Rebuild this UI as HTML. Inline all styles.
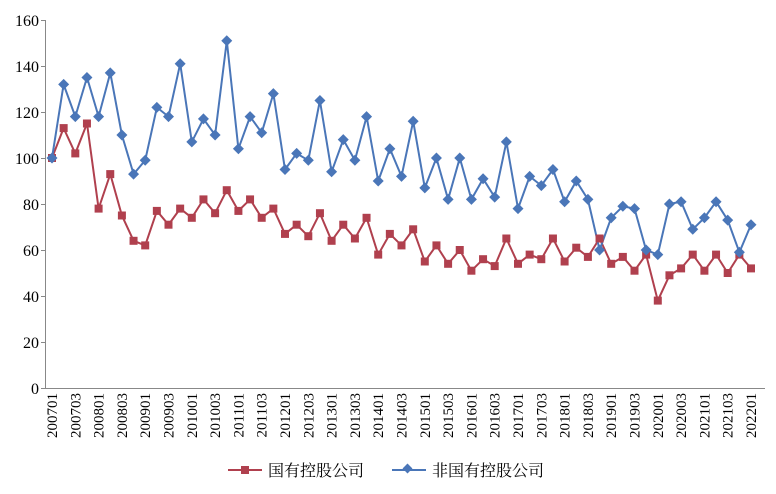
<!DOCTYPE html>
<html><head><meta charset="utf-8"><style>
body{margin:0;background:#fff}
svg text{font-family:"Liberation Serif","Noto Serif CJK SC",serif;fill:#000}
</style></head><body>
<svg id="s" width="776" height="489" xmlns="http://www.w3.org/2000/svg">
<line x1="45.5" y1="20" x2="45.5" y2="388" stroke="#888" stroke-width="1"/>
<line x1="45" y1="388.5" x2="765" y2="388.5" stroke="#888" stroke-width="1"/>
<g stroke="#888"><line x1="41" y1="20.5" x2="45" y2="20.5"/><line x1="41" y1="66.5" x2="45" y2="66.5"/><line x1="41" y1="112.5" x2="45" y2="112.5"/><line x1="41" y1="158.5" x2="45" y2="158.5"/><line x1="41" y1="204.5" x2="45" y2="204.5"/><line x1="41" y1="250.5" x2="45" y2="250.5"/><line x1="41" y1="296.5" x2="45" y2="296.5"/><line x1="41" y1="342.5" x2="45" y2="342.5"/><line x1="41" y1="388.5" x2="45" y2="388.5"/></g>
<g font-size="16" text-anchor="end">
<text x="39" y="394">0</text><text x="39" y="348">20</text><text x="39" y="302">40</text><text x="39" y="256">60</text><text x="39" y="210">80</text><text x="39" y="164">100</text><text x="39" y="118">120</text><text x="39" y="72">140</text><text x="39" y="26">160</text>
</g>
<g id="ser"></g>
<line x1="228" y1="470" x2="262" y2="470" stroke="#b0404e" stroke-width="2"/>
<rect x="241" y="466" width="8" height="8" fill="#b0404e"/>
<text x="268" y="476" font-size="16">国有控股公司</text>
<line x1="392" y1="470" x2="426" y2="470" stroke="#4a76b8" stroke-width="2"/>
<rect x="404" y="465" width="7" height="7" fill="#4a76b8" transform="rotate(45 407.5 468.5)"/>
<text x="432" y="476" font-size="16">非国有控股公司</text>
<g font-size="15" text-anchor="end">
<text transform="translate(57,393) rotate(-90)">200701</text>
<text transform="translate(80.3,393) rotate(-90)">200703</text>
<text transform="translate(103.6,393) rotate(-90)">200801</text>
<text transform="translate(126.9,393) rotate(-90)">200803</text>
<text transform="translate(150.2,393) rotate(-90)">200901</text>
<text transform="translate(173.5,393) rotate(-90)">200903</text>
<text transform="translate(196.8,393) rotate(-90)">201001</text>
<text transform="translate(220.1,393) rotate(-90)">201003</text>
<text transform="translate(243.4,393) rotate(-90)">201101</text>
<text transform="translate(266.7,393) rotate(-90)">201103</text>
<text transform="translate(290,393) rotate(-90)">201201</text>
<text transform="translate(313.3,393) rotate(-90)">201203</text>
<text transform="translate(336.6,393) rotate(-90)">201301</text>
<text transform="translate(359.9,393) rotate(-90)">201303</text>
<text transform="translate(383.2,393) rotate(-90)">201401</text>
<text transform="translate(406.5,393) rotate(-90)">201403</text>
<text transform="translate(429.8,393) rotate(-90)">201501</text>
<text transform="translate(453.1,393) rotate(-90)">201503</text>
<text transform="translate(476.4,393) rotate(-90)">201601</text>
<text transform="translate(499.7,393) rotate(-90)">201603</text>
<text transform="translate(523,393) rotate(-90)">201701</text>
<text transform="translate(546.3,393) rotate(-90)">201703</text>
<text transform="translate(569.6,393) rotate(-90)">201801</text>
<text transform="translate(592.9,393) rotate(-90)">201803</text>
<text transform="translate(616.2,393) rotate(-90)">201901</text>
<text transform="translate(639.5,393) rotate(-90)">201903</text>
<text transform="translate(662.8,393) rotate(-90)">202001</text>
<text transform="translate(686.1,393) rotate(-90)">202003</text>
<text transform="translate(709.4,393) rotate(-90)">202101</text>
<text transform="translate(732.7,393) rotate(-90)">202103</text>
<text transform="translate(756,393) rotate(-90)">202201</text>
</g>
</svg>
<script>
var B=[100,132,118,135,118,137,110,93,99,122,118,141,107,117,110,151,104,118,111,128,95,102,99,125,94,108,99,118,90,104,92,116,87,100,82,100,82,91,83,107,78,92,88,95,81,90,82,60,74,79,78,60,58,80,81,69,74,81,73,59,71];
var R=[100,113,102,115,78,93,75,64,62,77,71,78,74,82,76,86,77,82,74,78,67,71,66,76,64,71,65,74,58,67,62,69,55,62,54,60,51,56,53,65,54,58,56,65,55,61,57,65,54,57,51,58,38,49,52,58,51,58,50,58,52];
var g=document.getElementById('ser'),h='';
function X(i){return 52+i*11.65}function Y(v){return 388-v*2.3}
function line(d,c){var p=d.map(function(v,i){return X(i).toFixed(1)+','+Y(v).toFixed(1)}).join(' ');h+='<polyline points="'+p+'" fill="none" stroke="'+c+'" stroke-width="2"/>';}
line(R,'#b0404e');line(B,'#4a76b8');
R.forEach(function(v,i){h+='<rect x="'+(X(i)-4)+'" y="'+(Y(v)-4)+'" width="8" height="8" fill="#b0404e"/>';});
B.forEach(function(v,i){var x=X(i),y=Y(v);h+='<polygon points="'+x+','+(y-5.5)+' '+(x+5.5)+','+y+' '+x+','+(y+5.5)+' '+(x-5.5)+','+y+'" fill="#4a76b8"/>';});
g.innerHTML=h;
</script>
</body></html>
